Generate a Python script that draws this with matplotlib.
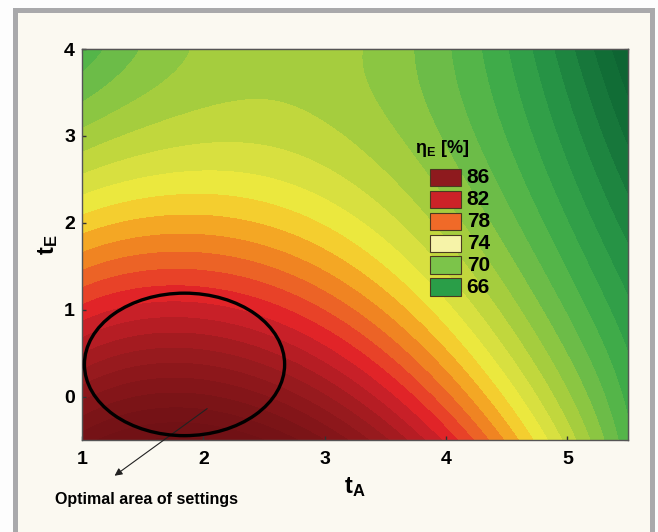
import numpy as np
import matplotlib
matplotlib.use('Agg')
import matplotlib.pyplot as plt
from matplotlib.colors import LinearSegmentedColormap, Normalize
from matplotlib.patches import Ellipse, Rectangle

plt.rcParams['font.family'] = ['Liberation Sans Narrow', 'Liberation Sans', 'DejaVu Sans']
plt.rcParams['font.weight'] = 'bold'
plt.rcParams['mathtext.fontset'] = 'custom'
plt.rcParams['mathtext.rm'] = 'Liberation Sans:bold'
plt.rcParams['mathtext.bf'] = 'Liberation Sans:bold'
plt.rcParams['mathtext.it'] = 'Liberation Sans:bold'

# efficiency readings (eta_E, %) taken off the response surface
tA_pts = [1, 2, 3, 4, 5, 5.5]
tE_pts = [-0.5, 0, 1, 2, 3, 4]
eta_pts = [
    [88.5, 89.5, 87.0, 80.5, 72.3, 68.5],   # tE = -0.5
    [86.0, 87.0, 85.3, 78.5, 71.0, 67.8],   # tE = 0
    [80.3, 80.8, 79.5, 73.5, 69.0, 66.3],   # tE = 1
    [75.3, 76.3, 74.2, 71.8, 67.0, 64.5],   # tE = 2
    [71.3, 73.3, 72.3, 70.2, 65.5, 62.8],   # tE = 3
    [68.2, 71.3, 71.0, 69.3, 64.3, 61.0],   # tE = 4
]
legend_levels = [86, 82, 78, 74, 70, 66]
legend_colors = ['#8e1a1e', '#cc2228', '#f06a28', '#f6f3a8', '#7cc44a', '#2a9e48']

# colour ramp used for the filled contours
ramp = [(60, '#0b5e30'), (62, '#0f6834'), (64, '#1a7e3e'), (66, '#2a9a48'),
        (68, '#48b24a'), (69.5, '#6cbc48'), (70.5, '#8cc642'), (72, '#b4d23c'),
        (73.5, '#d8e040'), (74.5, '#ece83e'), (75.5, '#f4d030'), (76.5, '#f4a824'),
        (77.5, '#f08422'), (78.5, '#ec6226'), (79.5, '#e84428'), (80.5, '#e22428'),
        (81.5, '#c82028'), (83, '#ac1c22'), (84.5, '#981a1e'), (86, '#88161a'),
        (88, '#781316'), (91, '#6a1014')]
vmin, vmax = ramp[0][0], ramp[-1][0]
cmap = LinearSegmentedColormap.from_list(
    'eta', [((v - vmin) / (vmax - vmin), c) for v, c in ramp])
norm = Normalize(vmin, vmax)

# fit a bicubic surface through the readings
X, Y = np.meshgrid(tA_pts, tE_pts)
Z = np.array(eta_pts)
def terms(x, y):
    u = (x - 3.25) / 2.25
    w = (y - 1.75) / 2.25
    return np.stack([u**i * w**j for i in range(4) for j in range(4)], axis=-1)
coef, *_ = np.linalg.lstsq(terms(X.ravel(), Y.ravel()), Z.ravel(), rcond=None)

gx = np.linspace(1, 5.5, 300)
gy = np.linspace(-0.5, 4, 300)
GX, GY = np.meshgrid(gx, gy)
GZ = terms(GX, GY) @ coef

fig = plt.figure(figsize=(6.58, 5.32), dpi=100)
fig.patch.set_facecolor('#fdfdfd')

# cream panel with grey frame behind everything
bg = fig.add_axes([0, 0, 1, 1])
bg.set_xlim(0, 658)
bg.set_ylim(532, 0)
bg.axis('off')
bg.add_patch(Rectangle((14.5, 9.5), 637, 540, facecolor='#fbf9f1',
                       edgecolor='#a9a9ab', linewidth=3.6))

ax = fig.add_axes([82 / 658, 1 - 440 / 532, 546 / 658, 391 / 532])
ax.contourf(GX, GY, GZ, levels=np.arange(58, 94, 1), cmap=cmap, norm=norm)
ax.set_xlim(1, 5.5)
ax.set_ylim(-0.5, 4)

ax.set_xticks([1, 2, 3, 4, 5])
ax.set_yticks([0, 1, 2, 3, 4])
ax.tick_params(direction='in', length=3, width=1, color='#333333',
               labelsize=14, pad=5)
ax.tick_params(axis='x', pad=8)
for s in ax.spines.values():
    s.set_color('#555555')
    s.set_linewidth(1)

# secondary ticks on top and right edges
top = ax.secondary_xaxis('top')
top.set_xticks(np.linspace(1, 5.5, 11))
top.tick_params(direction='in', length=3, labeltop=False, color='#333333')
right = ax.secondary_yaxis('right')
right.set_yticks(np.linspace(-0.5, 4, 11))
right.tick_params(direction='in', length=3, labelright=False, color='#333333')

ax.set_xlabel(r'$\mathbf{t_A}$', fontsize=17, labelpad=5)
ax.set_ylabel(r'$\mathbf{t_E}$', fontsize=17, labelpad=3)

# optimal area ellipse and annotation
ax.add_patch(Ellipse((1.845, 0.37), 1.65, 1.64, fill=False, edgecolor='black',
                     linewidth=2.4, zorder=5))
ax.annotate('', xy=(1.25, -0.93), xytext=(2.05, -0.12), annotation_clip=False,
            arrowprops=dict(arrowstyle='-|>', color='#222222', lw=0.8,
                            mutation_scale=11))
ax.text(1.53, -1.19, 'Optimal area of settings', fontsize=11.5, ha='center',
        va='center', clip_on=False)

# legend inside the plot
ax.text(3.97, 2.86, r'$\mathbf{\eta_E}$ [%]', fontsize=13, ha='center', va='center')
for i, (lev, col) in enumerate(zip(legend_levels, legend_colors)):
    yc = 2.52 - i * 0.252
    ax.add_patch(Rectangle((3.87, yc - 0.1), 0.25, 0.2, facecolor=col,
                           edgecolor='#4a3a20', linewidth=0.8, zorder=6))
    ax.text(4.17, yc, str(lev), fontsize=15, ha='left', va='center')

fig.savefig('out.png', dpi=100)
